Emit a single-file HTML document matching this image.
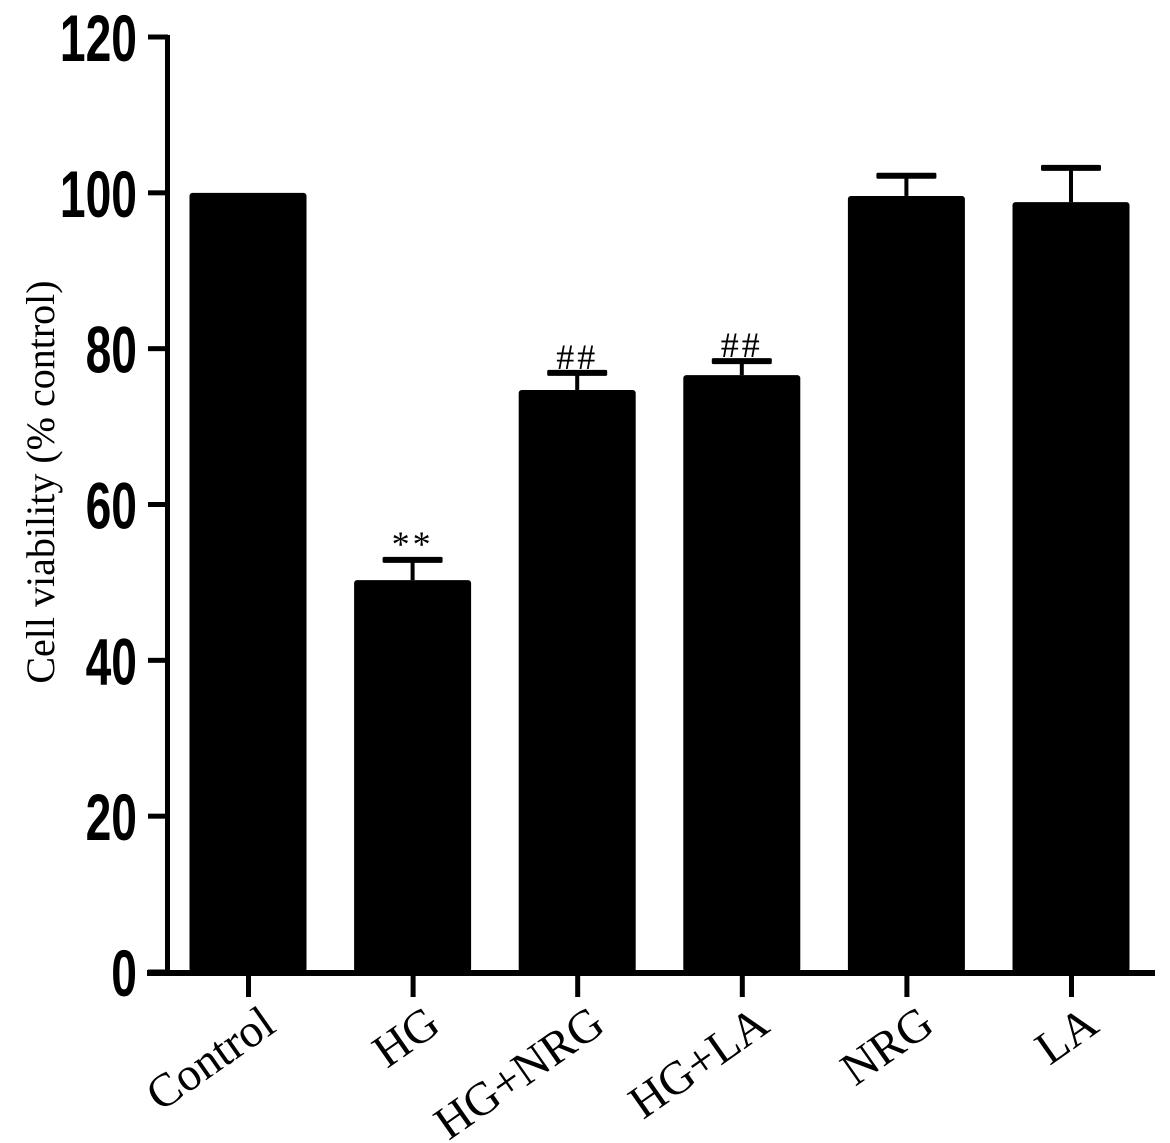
<!DOCTYPE html>
<html><head><meta charset="utf-8"><style>
html,body{margin:0;padding:0;background:#fff;}
svg{display:block;}
</style></head><body>
<svg id="chart" width="1170" height="1143" viewBox="0 0 1170 1143" xmlns="http://www.w3.org/2000/svg">
<g id="axes"></g>
<g id="bars"></g>
<text transform="translate(54,482) rotate(-90)" text-anchor="middle" font-family="Liberation Serif, serif" font-size="40" fill="#000">Cell viability (% control)</text>
</svg>
<script>
const categories = ["Control","HG","HG+NRG","HG+LA","NRG","LA"];
const values = [100, 50.3, 74.7, 76.6, 99.6, 98.8];
const errors = [0, 2.6, 2.2, 1.8, 2.6, 4.4];
const marks = ["", "**", "##", "##", "", ""];
const yTicks = [0, 20, 40, 60, 80, 100, 120];

const NS = "http://www.w3.org/2000/svg";
const y0 = 972, yTop = 37, yMax = 120;
const yS = v => y0 - (y0 - yTop) * v / yMax;
const x0 = 248, step = 164.6;
const xS = i => x0 + i * step;
const barW = 117;
function mk(tag, attrs, parent){ const e=document.createElementNS(NS,tag); for(const k in attrs) e.setAttribute(k,attrs[k]); parent.appendChild(e); return e; }
const axes = document.getElementById('axes');
const bars = document.getElementById('bars');

let e = mk('rect',{x:165,y:yTop-2,width:5,height:y0-yTop+6,fill:'#000'},axes);


e = mk('rect',{x:147,y:y0-2,width:1008,height:6,fill:'#000'},axes);



yTicks.forEach(t=>{
  const y = yS(t);
  let tk = mk('rect',{x:148,y:y-2.5,width:20,height:5,fill:'#000'},axes);
  
  
  let g = mk('g',{transform:'translate(137,'+(y+24)+') scale(0.7,1)'},axes);
  let tx = mk('text',{x:0,y:0,'text-anchor':'end','font-family':'Liberation Sans, sans-serif','font-weight':'bold','font-size':66,fill:'#000'},g);
  tx.textContent = t;
  
  
});

categories.forEach((c,i)=>{
  const cx = xS(i);
  let tk = mk('rect',{x:cx-2,y:y0,width:5,height:25,fill:'#000'},axes);
  
  
  let lb = mk('text',{transform:'translate('+(cx+30)+',1030) rotate(-35)','text-anchor':'end','font-family':'Liberation Serif, serif','font-size':47,fill:'#000'},axes);
  lb.textContent = c;
  
  

  const yt = yS(values[i]);
  let b = mk('rect',{x:cx-barW/2,y:yt,width:barW,height:y0-yt,rx:3,fill:'#000'},bars);
  
  
  if(errors[i]>0){
    const ye = yS(values[i]+errors[i]);
    let s = mk('rect',{x:cx-2,y:ye,width:4,height:yt-ye,fill:'#000'},bars);
    
    
    let cap = mk('rect',{x:cx-30,y:ye-3,width:60,height:6,rx:1.5,fill:'#000'},bars);
    
    
    if(marks[i]){
      let m = mk('text',{x:cx,y:ye-4,'text-anchor':'middle','font-family':'Liberation Serif, serif','font-size':36,'letter-spacing':3,fill:'#000'},bars);
      m.textContent = marks[i];
      
      
    }
  }
});
</script>
</body></html>
